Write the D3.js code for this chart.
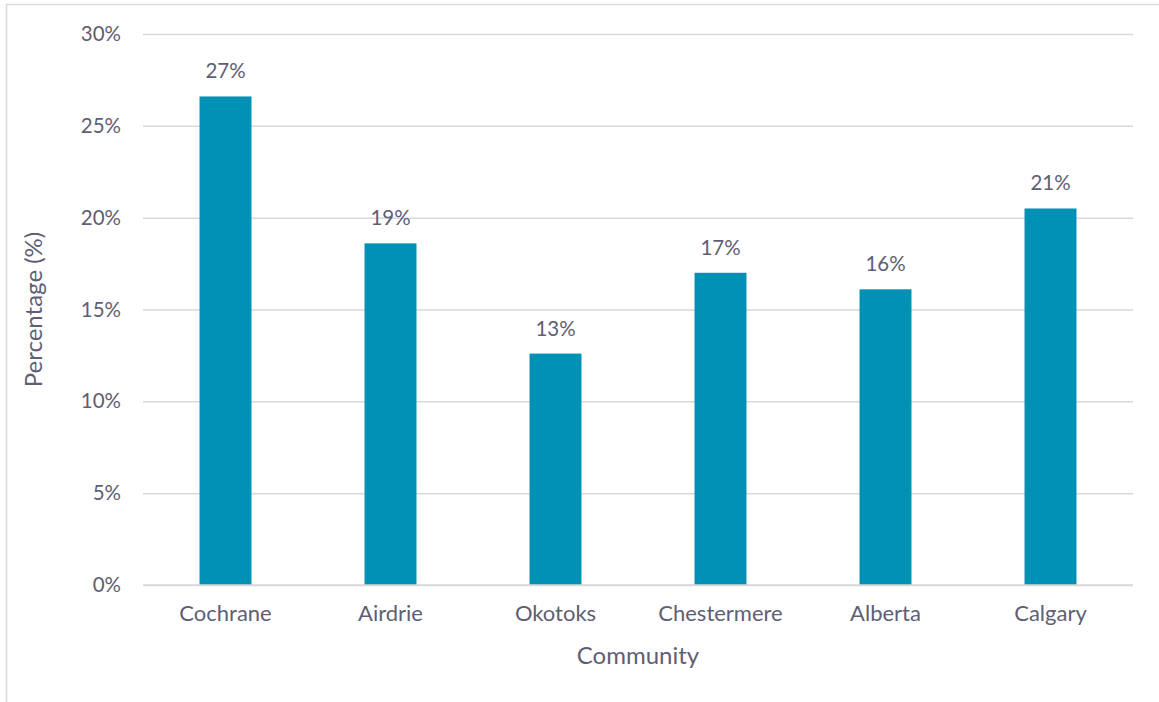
<!DOCTYPE html>
<html>
<head>
<meta charset="utf-8">
<script src="https://cdn.jsdelivr.net/npm/d3@7"></script>
<style>
  html, body { margin: 0; padding: 0; background: #fff; }
  svg { display: block; }
  text { font-family: Lato, "Open Sans", sans-serif; fill: #5f5e74; }
</style>
</head>
<body>
<svg id="chart" width="1159" height="702"></svg>
<script>
// Share of population by community (percent)
const communities = ["Cochrane", "Airdrie", "Okotoks", "Chestermere", "Alberta", "Calgary"];
const shares = [26.6, 18.6, 12.6, 17.0, 16.1, 20.5];
const yTicks = [0, 5, 10, 15, 20, 25, 30];

const data = communities.map((c, i) => ({ community: c, value: shares[i] }));

const svg = d3.select("#chart");
const W = 1159, H = 702;
const plot = { left: 143, right: 1133, top: 34, bottom: 585 };

// outer chart frame
svg.append("rect")
  .attr("x", 6.5).attr("y", 4.5)
  .attr("width", W + 20).attr("height", H + 20)
  .attr("fill", "none").attr("stroke", "#d9d9d9").attr("stroke-width", 1.5);

const x = d3.scaleBand()
  .domain(communities)
  .range([plot.left, plot.right])
  .paddingInner(0.685)
  .paddingOuter(0.3425);

const y = d3.scaleLinear().domain([0, 30]).range([plot.bottom, plot.top]);

// horizontal gridlines with percent labels
const yAxis = d3.axisLeft(y)
  .tickValues(yTicks)
  .tickSize(-(plot.right - plot.left))
  .tickPadding(22)
  .tickFormat(d => d + "%");

const gy = svg.append("g")
  .attr("transform", `translate(${plot.left},0)`)
  .call(yAxis);
gy.select(".domain").remove();
gy.selectAll(".tick line").attr("stroke", "#d9d9d9").attr("stroke-width", 1.5);
gy.selectAll(".tick text")
  .attr("fill", "#5f5e74")
  .style("font-size", "20.5px");

// bars
svg.append("g").selectAll("rect")
  .data(data)
  .join("rect")
  .attr("x", d => x(d.community))
  .attr("y", d => y(d.value))
  .attr("width", x.bandwidth())
  .attr("height", d => y(0) - y(d.value))
  .attr("fill", "#0091b4");

// value labels
svg.append("g").selectAll("text")
  .data(data)
  .join("text")
  .attr("x", d => x(d.community) + x.bandwidth() / 2)
  .attr("y", d => y(d.value) - 18)
  .attr("text-anchor", "middle")
  .style("font-size", "20.5px")
  .text(d => Math.round(d.value) + "%");

// category axis (baseline plus labels)
const xAxis = d3.axisBottom(x).tickSize(0).tickPadding(20);
const gx = svg.append("g")
  .attr("transform", `translate(0,${plot.bottom})`)
  .call(xAxis);
gx.select(".domain").attr("stroke", "#d9d9d9").attr("stroke-width", 1.5)
  .attr("d", `M${plot.left},0H${plot.right}`);
gx.selectAll(".tick text")
  .attr("fill", "#5f5e74")
  .style("font-size", "22px");

// axis titles
svg.append("text")
  .attr("x", (plot.left + plot.right) / 2)
  .attr("y", 664)
  .attr("text-anchor", "middle")
  .style("font-size", "24px")
  .text("Community");

svg.append("text")
  .attr("transform", `translate(42,${(plot.top + plot.bottom) / 2}) rotate(-90)`)
  .attr("text-anchor", "middle")
  .style("font-size", "24px")
  .text("Percentage (%)");
</script>
</body>
</html>
